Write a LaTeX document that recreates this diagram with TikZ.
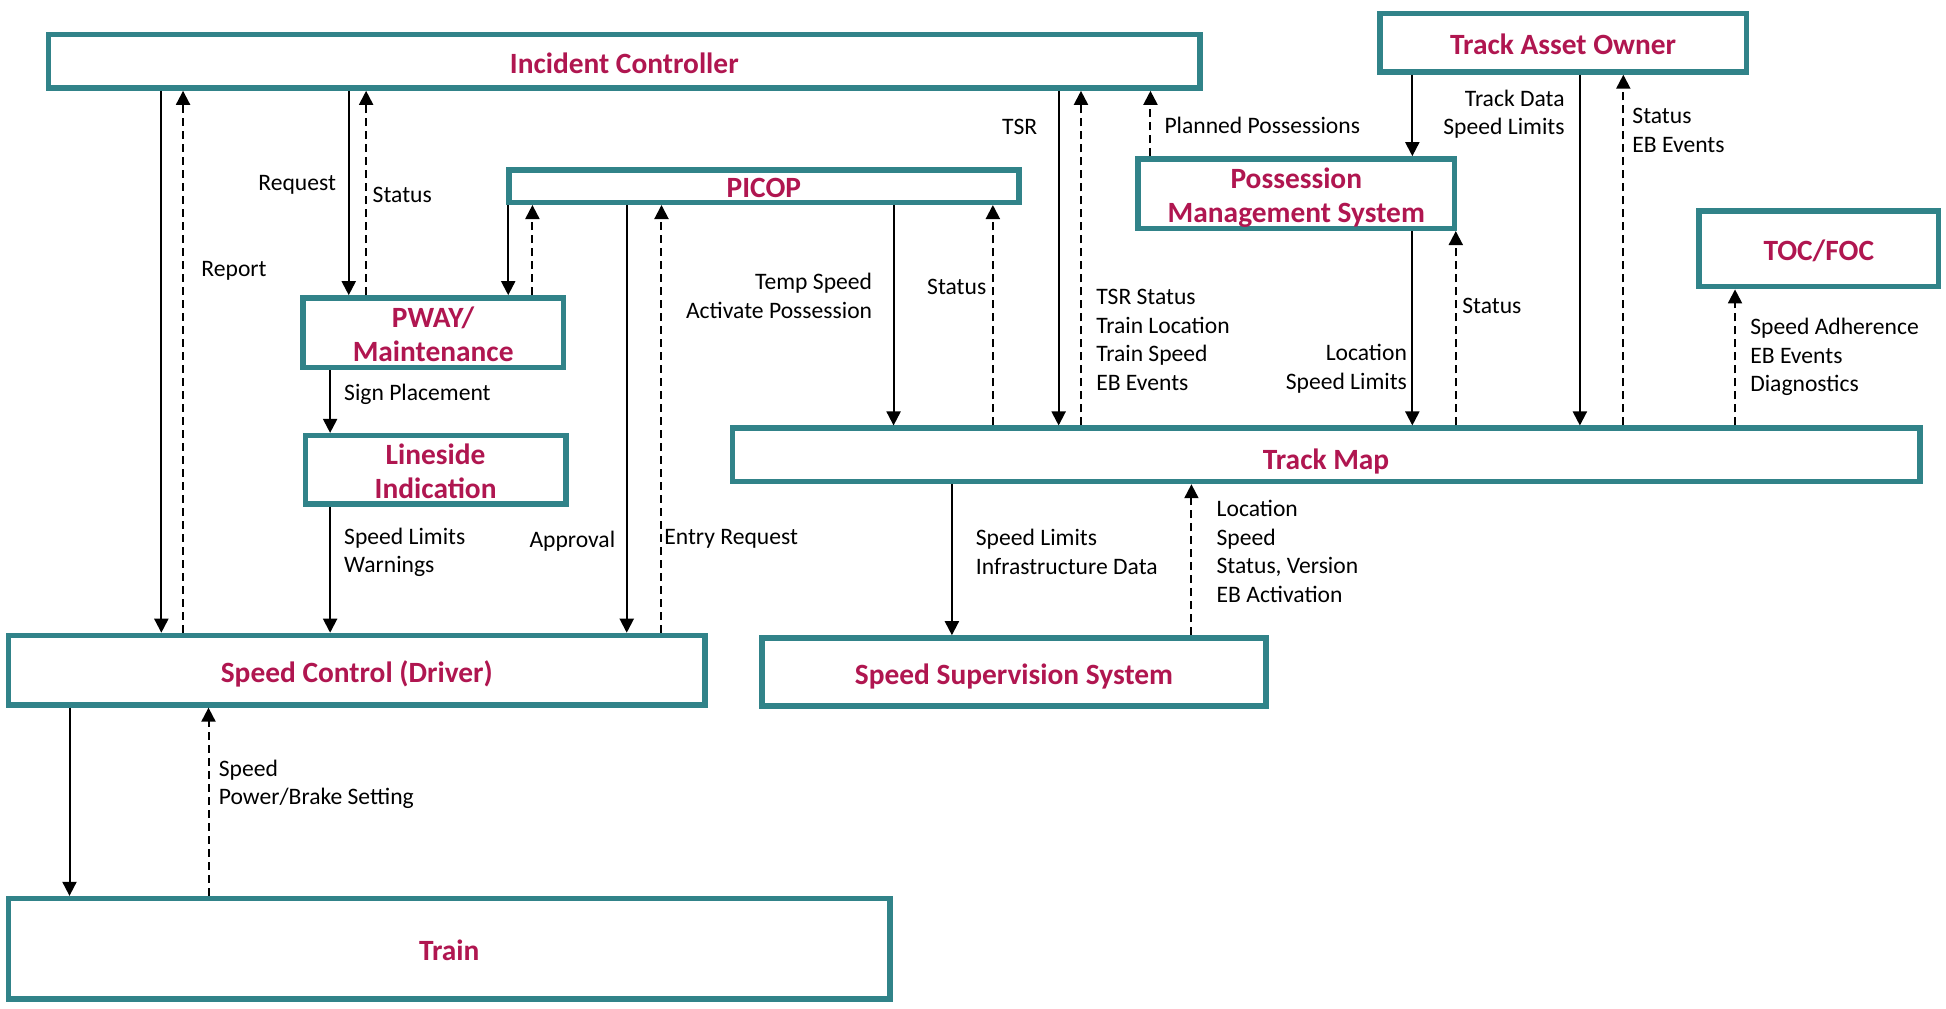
\documentclass[tikz,border=0pt]{standalone}
\usepackage{fontspec}
\setmainfont{Carlito}
\usetikzlibrary{arrows.meta,fit}

\definecolor{boxteal}{RGB}{49,131,137}
\definecolor{titlered}{RGB}{176,22,80}

\tikzset{
  sysbox/.style={draw=boxteal, line width=2.7pt, fill=white, inner sep=0pt},
  systitle/.style={inner sep=0pt, align=center, text=titlered, yshift=-0.8pt,
    font=\fontsize{14.7}{17.4}\selectfont\bfseries},
  lowtitle/.style={systitle, yshift=-1.2pt},
  flow/.style={line width=1pt, -{Triangle[length=7pt,width=7pt]}},
  reply/.style={flow, dash pattern=on 4pt off 2.5pt},
  lbl/.style={inner sep=0pt, font=\fontsize{11.8}{14.27}\selectfont,
    execute at begin node=\strut},
  lblL/.style={lbl, anchor=north west, align=left},
  lblR/.style={lbl, anchor=north east, align=right},
}

\begin{document}
\begin{tikzpicture}[x=0.62054pt, y=-0.62054pt]
\useasboundingbox (0,0) rectangle (1568,813);

% systems
\node[sysbox, fit={(39,28) (967,71)},
  label={[systitle]center:Incident Controller}] (ic) {};
\node[sysbox, fit={(1112,11) (1407,58)},
  label={[systitle]center:Track Asset Owner}] (tao) {};
\node[sysbox, fit={(410,137) (821,163)},
  label={[systitle]center:PICOP}] (picop) {};
\node[sysbox, fit={(917,128) (1172,184)},
  label={[lowtitle]center:Possession\\Management System}] (pms) {};
\node[sysbox, fit={(1369,170) (1562,231)},
  label={[systitle]center:TOC/FOC}] (toc) {};
\node[sysbox, fit={(244,240) (454,296)},
  label={[systitle]center:PWAY/\\Maintenance}] (pway) {};
\node[sysbox, fit={(246,351) (456,406)},
  label={[systitle]center:Lineside\\Indication}] (lin) {};
\node[sysbox, fit={(590,345) (1547,388)},
  label={[lowtitle, yshift=-1.2pt]center:Track Map}] (tm) {};
\node[sysbox, fit={(7,512) (568,568)},
  label={[lowtitle]center:Speed Control (Driver)}] (sc) {};
\node[sysbox, fit={(614,514) (1020,569)},
  label={[lowtitle]center:Speed Supervision System}] (sss) {};
\node[sysbox, fit={(7,724) (717,805)},
  label={[systitle]center:Train}] (train) {};

% Incident Controller links
\draw[flow]  (130,0 |- ic.south) -- (130,0 |- sc.north);
\draw[reply] (147.5,0 |- sc.north) -- (147.5,0 |- ic.south);
\node[lblL] at (162,206) {Report};
\draw[flow]  (281,0 |- ic.south) -- (281,0 |- pway.north);
\draw[reply] (295,0 |- pway.north) -- (295,0 |- ic.south);
\node[lblR] at (271,137) {Request};
\node[lblL] at (300,147) {Status};
\draw[flow]  (853,0 |- ic.south) -- (853,0 |- tm.north);
\draw[reply] (871,0 |- tm.north) -- (871,0 |- ic.south);
\node[lblR] at (836,92) {TSR};
\node[lblL] at (883,233) {TSR Status\\Train Location\\Train Speed\\EB Events};
\draw[reply] (927,0 |- pms.north) -- (927,0 |- ic.south);
\node[lblL] at (938,91) {Planned Possessions};

% PICOP links
\draw[flow]  (409.5,0 |- picop.south) -- (409.5,0 |- pway.north);
\draw[reply] (429,0 |- pway.north) -- (429,0 |- picop.south);
\draw[flow]  (505,0 |- picop.south) -- (505,0 |- sc.north);
\draw[reply] (533,0 |- sc.north) -- (533,0 |- picop.south);
\node[lblR] at (496,425) {Approval};
\node[lblL] at (535,422) {Entry Request};
\draw[flow]  (720,0 |- picop.south) -- (720,0 |- tm.north);
\draw[reply] (800,0 |- tm.north) -- (800,0 |- picop.south);
\node[lblR] at (703,220) {Temp Speed\\Activate Possession};
\node[lblR] at (795,221) {Status};

% Track Asset Owner and Possession Management System links
\draw[flow]  (1138,0 |- tao.south) -- (1138,0 |- pms.north);
\node[lblR] at (1261,72) {Track Data\\Speed Limits};
\draw[flow]  (1273,0 |- tao.south) -- (1273,0 |- tm.north);
\draw[reply] (1308,0 |- tm.north) -- (1308,0 |- tao.south);
\node[lblL] at (1315,87) {Status\\EB Events};
\draw[flow]  (1138,0 |- pms.south) -- (1138,0 |- tm.north);
\draw[reply] (1173,0 |- tm.north) -- (1173,0 |- pms.south);
\node[lblR] at (1134,277) {Location\\Speed Limits};
\node[lblL] at (1178,236) {Status};

% TOC/FOC
\draw[reply] (1398,0 |- tm.north) -- (1398,0 |- toc.south);
\node[lblL] at (1410,256) {Speed Adherence\\EB Events\\Diagnostics};

% lineside chain
\draw[flow] (266,0 |- pway.south) -- (266,0 |- lin.north);
\node[lblL] at (277,306) {Sign Placement};
\draw[flow] (266,0 |- lin.south) -- (266,0 |- sc.north);
\node[lblL] at (277,425) {Speed Limits\\Warnings};

% Track Map and Speed Supervision System
\draw[flow]  (767,0 |- tm.south) -- (767,0 |- sss.north);
\draw[reply] (960,0 |- sss.north) -- (960,0 |- tm.south);
\node[lblL] at (786,426) {Speed Limits\\Infrastructure Data};
\node[lblL] at (980,403) {Location\\Speed\\Status, Version\\EB Activation};

% Speed Control and Train
\draw[flow]  (56,0 |- sc.south) -- (56,0 |- train.north);
\draw[reply] (168,0 |- train.north) -- (168,0 |- sc.south);
\node[lblL] at (176,612) {Speed\\Power/Brake Setting};
\end{tikzpicture}
\end{document}
